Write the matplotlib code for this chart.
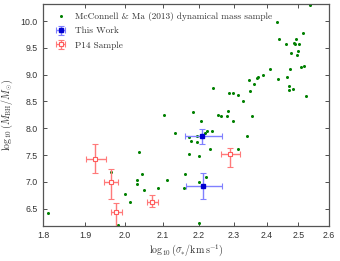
import matplotlib
matplotlib.use('Agg')
import matplotlib.pyplot as plt
from matplotlib.ticker import FixedLocator, FormatStrFormatter, NullLocator
import numpy as np

plt.rcParams['mathtext.fontset'] = 'cm'
plt.rcParams['font.family'] = 'Liberation Sans'

# McConnell & Ma (2013) dynamical mass sample
mm_sigma = [1.812, 2.037, 1.964, 2.045, 2.030, 2.030, 2.050, 2.000, 2.013, 1.981,
            2.110, 2.086, 2.205, 2.297, 2.134, 2.171, 2.193, 2.222, 2.218, 2.238,
            2.339, 2.176, 2.193, 2.231, 2.171, 2.199, 2.312, 2.161, 2.199, 2.220,
            2.159, 2.199, 2.103, 2.184, 2.241, 2.285, 2.299, 2.312, 2.329, 2.347,
            2.362, 2.371, 2.374, 2.255, 2.263, 2.283, 2.281, 2.354, 2.431, 2.438,
            2.460, 2.485, 2.488, 2.493, 2.503, 2.516, 2.477, 2.498, 2.496, 2.472,
            2.517, 2.508, 2.435, 2.464, 2.471, 2.471, 2.483, 2.524, 2.410, 2.389,
            2.349, 2.537]
mm_mbh = [6.42, 7.56, 7.18, 7.15, 7.04, 6.95, 6.84, 6.78, 6.62, 6.20,
          7.04, 6.88, 8.14, 8.14, 7.92, 7.83, 7.85, 7.94, 7.91, 7.95,
          7.86, 7.77, 7.74, 7.61, 7.52, 7.48, 7.61, 7.15, 7.00, 7.09,
          6.89, 6.23, 8.25, 8.30, 8.76, 8.66, 8.66, 8.62, 8.51, 8.90,
          8.82, 8.93, 8.95, 8.25, 8.23, 8.32, 8.23, 8.23, 9.98, 9.66,
          9.58, 9.60, 9.57, 9.66, 9.58, 9.78, 9.40, 9.44, 9.36, 9.10,
          9.17, 9.14, 8.92, 8.96, 8.78, 8.71, 8.73, 8.60, 9.10, 8.99,
          8.69, 10.30]

# This Work
tw_sigma = [2.209, 2.212]
tw_sigma_lo = [0.049, 0.049]
tw_sigma_hi = [0.058, 0.055]
tw_mbh = [7.85, 6.92]
tw_mbh_lo = [0.149, 0.236]
tw_mbh_hi = [0.137, 0.236]

# P14 Sample
p14_sigma = [1.925, 1.964, 1.978, 2.072, 2.290]
p14_sigma_lo = [0.022, 0.018, 0.014, 0.015, 0.028]
p14_sigma_hi = [0.026, 0.019, 0.014, 0.016, 0.030]
p14_mbh = [7.42, 7.00, 6.43, 6.625, 7.51]
p14_mbh_lo = [0.255, 0.317, 0.35, 0.10, 0.237]
p14_mbh_hi = [0.28, 0.236, 0.17, 0.124, 0.13]

fig = plt.figure(figsize=(3.4, 2.61), dpi=100)
ax = fig.add_axes([0.1265, 0.1352, 0.841, 0.8495])

ax.plot(mm_sigma, mm_mbh, 'o', color='#008000', markersize=2.2, markeredgewidth=0,
        label='McConnell & Ma (2013) dynamical mass sample')
ax.errorbar(tw_sigma, tw_mbh, xerr=[tw_sigma_lo, tw_sigma_hi], yerr=[tw_mbh_lo, tw_mbh_hi],
            fmt='s', color='#0000d0', markersize=3, ecolor='#8080ff', elinewidth=1,
            capsize=2, capthick=0.8, label='This Work')
ax.errorbar(p14_sigma, p14_mbh, xerr=[p14_sigma_lo, p14_sigma_hi], yerr=[p14_mbh_lo, p14_mbh_hi],
            fmt='s', mfc='white', mec='#ff5a5a', mew=0.8, markersize=3.5, ecolor='#ff7a7a',
            elinewidth=1, capsize=2, capthick=0.8, label='P14 Sample', zorder=3)

ax.set_xscale('log')
ax.set_xlim(1.8, 2.6)
ax.set_ylim(6.18, 10.32)
ax.xaxis.set_major_locator(FixedLocator([1.8, 1.9, 2.0, 2.1, 2.2, 2.3, 2.4, 2.5, 2.6]))
ax.xaxis.set_major_formatter(FormatStrFormatter('%.1f'))
ax.xaxis.set_minor_locator(NullLocator())
ax.set_yticks([6.5, 7.0, 7.5, 8.0, 8.5, 9.0, 9.5, 10.0])
ax.yaxis.set_major_formatter(FormatStrFormatter('%.1f'))

ax.tick_params(axis='both', direction='in', top=True, right=True, length=3, width=0.6,
               labelsize=6.3, colors='#333333', pad=4)
for s in ax.spines.values():
    s.set_color('#555555')
    s.set_linewidth(0.9)

ax.set_xlabel(r'$\log_{10}(\sigma_{*}/\mathrm{km\,s^{-1}})$', fontsize=7.2, labelpad=1, color='#333333')
ax.set_ylabel(r'$\log_{10}(M_{\rm BH}/M_{\odot})$', fontsize=7.2, labelpad=4, color='#333333')

leg = ax.legend(loc='upper left', frameon=False, prop={'family': 'cmr10', 'size': 6.7},
                handletextpad=0.5, borderaxespad=0.5, labelspacing=0.6, handlelength=2)
for t in leg.get_texts():
    t.set_color('#333333')

fig.savefig('out.png', dpi=100)
